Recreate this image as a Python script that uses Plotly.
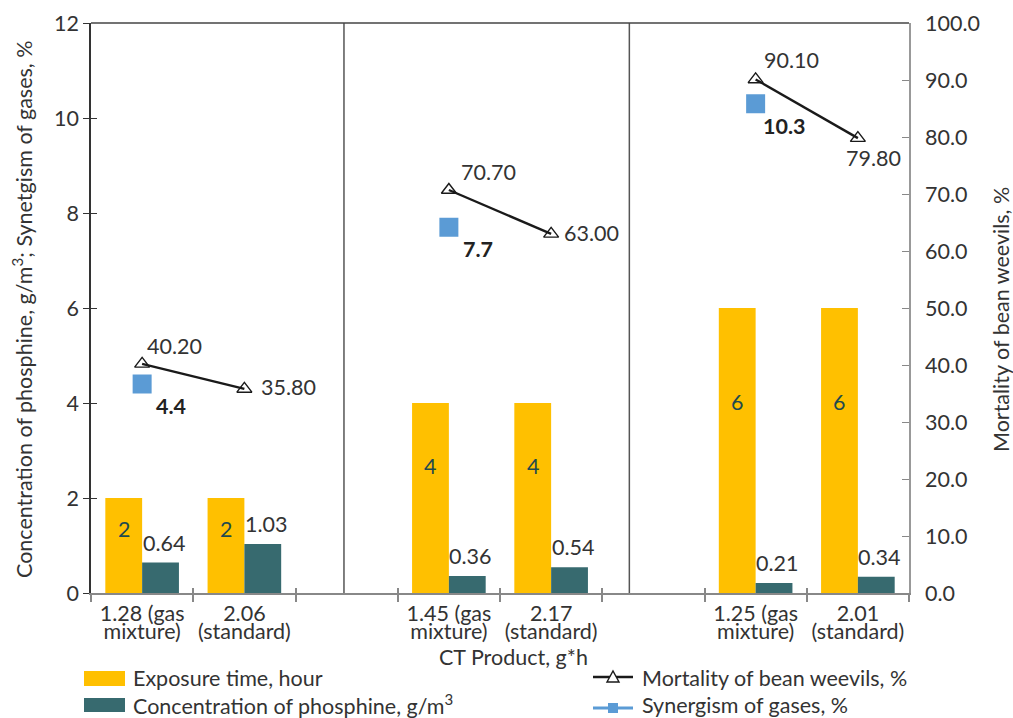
import plotly.graph_objects as go

# Data: CT product (g*h) for each treatment, paired per exposure time
ct_line1 = ["1.28 (gas", "2.06", "1.45 (gas", "2.17", "1.25 (gas", "2.01"]
ct_line2 = ["mixture)", "(standard)", "mixture)", "(standard)", "mixture)", "(standard)"]
exposure_hours = [2, 2, 4, 4, 6, 6]
phosphine_conc = [0.64, 1.03, 0.36, 0.54, 0.21, 0.34]
mortality_pct = [40.20, 35.80, 70.70, 63.00, 90.10, 79.80]
synergism_pct = [4.4, 7.7, 10.3]  # one value per pair (gas-mixture treatment)

YELLOW = "#FFC000"
TEAL = "#376A6F"
BLUE = "#5B9BD5"
TXT = "#333333"
FONT = "Lato"
FS = 21.5

W, H = 1013, 718
L, R, T, B = 91, 104, 23, 125
PW, PH = W - L - R, H - T - B


def px_x(px):
    return (px - L) / PW


def px_y(py):
    return (H - B - py) / PH


# each pair occupies two slots, with an empty slot between pairs
slots = [3 * (k // 2) + k % 2 for k in range(len(ct_line1))]
n_slots = slots[-1] + 1
BARGAP = 0.28
half_w = (1 - BARGAP) / 4  # offset of each bar centre from the slot centre

fig = go.Figure()
fig.add_bar(x=slots, y=exposure_hours, marker_color=YELLOW, marker_line_width=0,
            name="Exposure time, hour", showlegend=False)
fig.add_bar(x=slots, y=phosphine_conc, marker_color=TEAL, marker_line_width=0,
            name="Concentration of phosphine, g/m3", showlegend=False)

# mortality: one segment per pair, gaps between pairs
mx, my = [], []
for k, (s, v) in enumerate(zip(slots, mortality_pct)):
    mx.append(s)
    my.append(v)
    if k % 2 == 1 and k < len(slots) - 1:
        mx.append(None)
        my.append(None)
fig.add_scatter(x=mx, y=my, yaxis="y2", mode="lines+markers",
                line=dict(color="#1a1a1a", width=2.4),
                marker=dict(symbol="triangle-up-open", size=13,
                            color="#1a1a1a", line=dict(width=1.4)),
                connectgaps=False, showlegend=False)

syn_x = [slots[k] for k in range(0, len(slots), 2)]
fig.add_scatter(x=syn_x, y=synergism_pct, mode="markers",
                marker=dict(symbol="square", size=19, color=BLUE),
                showlegend=False)

# helper traces so the overlay axes (crossing ticks, second label line) are drawn
for ax in ("x2", "x3", "x4"):
    fig.add_scatter(x=[None], y=[None], xaxis=ax, showlegend=False)
fig.add_scatter(x=[None], y=[None], yaxis="y3", showlegend=False)

annotations = []
# exposure values inside the yellow bars
for s, v in zip(slots, exposure_hours):
    annotations.append(dict(x=s - half_w, y=v * 0.67, xref="x", yref="y",
                            text=str(v), showarrow=False,
                            font=dict(color="#1f4a4e", size=FS)))
# concentration values above the teal bars
for s, v in zip(slots, phosphine_conc):
    annotations.append(dict(x=s + half_w, y=v, xref="x", yref="y",
                            text=f"{v:.2f}", showarrow=False, yanchor="bottom",
                            xshift=3, yshift=5, font=dict(color=TXT, size=FS)))
# mortality labels
mort_off = [(32, 18), (44, 2), (40, 18), (40, 1), (36, 19), (16, -20)]
for (s, v), (dx, dy) in zip(zip(slots, mortality_pct), mort_off):
    annotations.append(dict(x=s, y=v, xref="x", yref="y2", text=f"{v:.2f}",
                            showarrow=False, xshift=dx, yshift=dy,
                            font=dict(color=TXT, size=FS)))
# synergism labels
for s, v in zip(syn_x, synergism_pct):
    annotations.append(dict(x=s, y=v, xref="x", yref="y", text=f"<b>{v:.1f}</b>",
                            showarrow=False, xshift=29, yshift=-22,
                            font=dict(color="#222222", size=FS)))

# axis titles
annotations += [
    dict(x=px_x(513), y=px_y(657), xref="paper", yref="paper",
         xanchor="center", yanchor="middle",
         text="CT Product, g*h", showarrow=False, font=dict(color=TXT, size=FS)),
    dict(x=px_x(22), y=px_y(310), xref="paper", yref="paper", textangle=-90,
         xanchor="center", yanchor="middle",
         text="Concentration of phosphine, g/m<sup>3</sup>; Synetgism of gases, %",
         showarrow=False, font=dict(color=TXT, size=FS)),
    dict(x=px_x(1001), y=px_y(320), xref="paper", yref="paper", textangle=-90,
         xanchor="center", yanchor="middle",
         text="Mortality of bean weevils, %", showarrow=False,
         font=dict(color=TXT, size=FS)),
]

# legend text
legend_items = [
    (131, 678, "Exposure time, hour"),
    (131, 704, "Concentration of phosphine, g/m<sup>3</sup>"),
    (640, 678, "Mortality of bean weevils, %"),
    (640, 705, "Synergism of gases, %"),
]
for x, y, t in legend_items:
    annotations.append(dict(x=px_x(x), y=px_y(y), xref="paper", yref="paper",
                            text=t, showarrow=False, xanchor="left",
                            yanchor="middle", font=dict(color=TXT, size=FS)))

shapes = []
# top border
shapes.append(dict(type="line", xref="paper", yref="paper", x0=0, x1=1, y0=1, y1=1,
                   line=dict(color="#444444", width=1.5)))
# separators between the exposure-time groups
for xs in (1.974, 4.765):
    shapes.append(dict(type="line", xref="x", yref="paper", x0=xs, x1=xs, y0=0, y1=1,
                       line=dict(color="#555555", width=1.5), layer="below"))

# legend swatches
shapes.append(dict(type="rect", xref="paper", yref="paper",
                   x0=px_x(84), x1=px_x(125), y0=px_y(686), y1=px_y(671),
                   fillcolor=YELLOW, line=dict(width=0)))
shapes.append(dict(type="rect", xref="paper", yref="paper",
                   x0=px_x(84), x1=px_x(125), y0=px_y(712), y1=px_y(698),
                   fillcolor=TEAL, line=dict(width=0)))
shapes.append(dict(type="line", xref="paper", yref="paper",
                   x0=px_x(593), x1=px_x(633), y0=px_y(677), y1=px_y(677),
                   line=dict(color="#1a1a1a", width=2.4)))
tri = [(607, 682), (619, 682), (613, 671)]
path = "M " + " L ".join(f"{px_x(a):.5f},{px_y(b):.5f}" for a, b in tri) + " Z"
shapes.append(dict(type="path", xref="paper", yref="paper", path=path,
                   fillcolor="white", line=dict(color="#1a1a1a", width=1.4)))
shapes.append(dict(type="line", xref="paper", yref="paper",
                   x0=px_x(593), x1=px_x(633), y0=px_y(708), y1=px_y(708),
                   line=dict(color=BLUE, width=3)))
shapes.append(dict(type="rect", xref="paper", yref="paper",
                   x0=px_x(608), x1=px_x(618), y0=px_y(713), y1=px_y(703),
                   fillcolor=BLUE, line=dict(width=0)))

xrange = [-0.5, n_slots - 0.5]
bounds = [i - 0.5 for i in range(n_slots + 1)]
blank_axis = dict(range=xrange, overlaying="x", anchor="y", side="bottom",
                  showline=False, showgrid=False, zeroline=False)

fig.update_layout(
    width=W, height=H,
    margin=dict(l=L, r=R, t=T, b=B, autoexpand=False),
    paper_bgcolor="white", plot_bgcolor="white",
    font=dict(family=FONT, size=FS, color=TXT),
    barmode="group", bargap=BARGAP, bargroupgap=0,
    showlegend=False,
    # first line of the category labels
    xaxis=dict(range=xrange, tickvals=slots, ticktext=ct_line1,
               ticks="", showline=True, linecolor="#888888", linewidth=1.5,
               showgrid=False, zeroline=False, tickfont=dict(size=FS, color=TXT)),
    # crossing tick marks at the category boundaries
    xaxis2=dict(blank_axis, tickvals=bounds, ticks="outside", ticklen=8,
                tickcolor="#888888", tickwidth=1.5, showticklabels=False),
    xaxis3=dict(blank_axis, tickvals=bounds, ticks="inside", ticklen=5,
                tickcolor="#888888", tickwidth=1.5, showticklabels=False),
    # second line of the category labels
    xaxis4=dict(blank_axis, tickvals=slots, ticktext=ct_line2, ticks="",
                ticklabelstandoff=23, tickfont=dict(size=FS, color=TXT)),
    yaxis=dict(range=[0, 12], dtick=2, ticks="outside", ticklen=6,
               tickcolor="#333333", tickwidth=1.2, showline=True,
               linecolor="#333333", linewidth=1.5, showgrid=False, zeroline=False,
               tickfont=dict(size=FS, color=TXT)),
    yaxis2=dict(range=[0, 100], overlaying="y", side="right", anchor="x",
                tickvals=list(range(0, 101, 10)), tickformat=".1f",
                ticks="inside", ticklen=7, tickcolor="#888888", tickwidth=1.2,
                showline=True, linecolor="#999999", linewidth=1.5,
                showgrid=False, zeroline=False, ticklabelstandoff=10,
                tickfont=dict(size=FS, color=TXT)),
    yaxis3=dict(range=[0, 12], dtick=2, overlaying="y", side="left", anchor="x",
                ticks="inside", ticklen=6, tickcolor="#333333", tickwidth=1.2,
                showticklabels=False, showline=False, showgrid=False,
                zeroline=False),
    annotations=annotations,
    shapes=shapes,
)

fig.write_html("out.html")
